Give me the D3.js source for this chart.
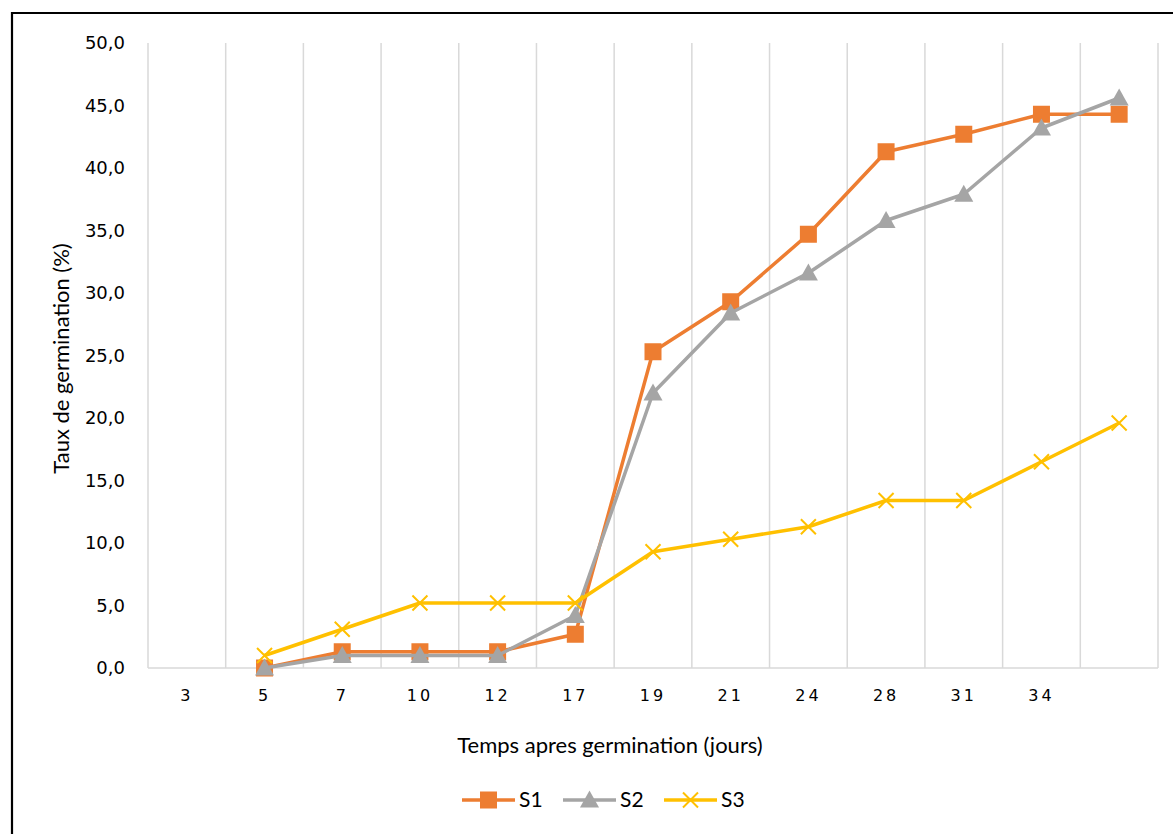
<!DOCTYPE html>
<html>
<head>
<meta charset="utf-8">
<script src="https://cdn.jsdelivr.net/npm/d3@7/dist/d3.min.js"></script>
<style>
  html, body { margin: 0; padding: 0; background: #fff; }
  svg { display: block; }
</style>
</head>
<body>
<svg id="chart" width="1173" height="834"></svg>
<script>
// Germination days (last category carries data but no label)
const categories = ["3", "5", "7", "10", "12", "17", "19", "21", "24", "28", "31", "34", ""];
// Germination rate (%) per series; null = no measurement
const s1 = [null, 0.0, 1.3, 1.3, 1.3, 2.7, 25.3, 29.3, 34.7, 41.3, 42.7, 44.3, 44.3];
const s2 = [null, 0.0, 1.0, 1.0, 1.0, 4.2, 22.0, 28.4, 31.6, 35.8, 37.9, 43.2, 45.6];
const s3 = [null, 1.0, 3.1, 5.2, 5.2, 5.2, 9.3, 10.3, 11.3, 13.4, 13.4, 16.5, 19.6];
const seriesNames = ["S1", "S2", "S3"];
const yTicks = [0, 5, 10, 15, 20, 25, 30, 35, 40, 45, 50];

const colors = { S1: "#ED7D31", S2: "#A5A5A5", S3: "#FFC000" };
const series = [
  { name: "S1", values: s1, marker: "square" },
  { name: "S2", values: s2, marker: "triangle" },
  { name: "S3", values: s3, marker: "cross" }
];

const svg = d3.select("#chart");
const W = 1173, H = 834;

// Outer frame (top and left edges visible)
svg.append("path")
  .attr("d", `M12,${H + 5}V13H${W + 5}`)
  .attr("fill", "none").attr("stroke", "#000").attr("stroke-width", 2.2);

const plot = { left: 148, right: 1158, top: 43, bottom: 668 };

const x = d3.scaleBand().domain(d3.range(categories.length))
  .range([plot.left, plot.right]).paddingInner(0).paddingOuter(0);
const y = d3.scaleLinear().domain([0, 50]).range([plot.bottom, plot.top]);
const cx = i => x(i) + x.bandwidth() / 2;

// Vertical gridlines at category boundaries
const bounds = d3.range(categories.length + 1).map(i => plot.left + i * x.bandwidth());
svg.append("g").selectAll("line").data(bounds).join("line")
  .attr("x1", d => d).attr("x2", d => d)
  .attr("y1", plot.top).attr("y2", plot.bottom)
  .attr("stroke", "#D9D9D9").attr("stroke-width", 1.5);

// Horizontal baseline
svg.append("line")
  .attr("x1", plot.left).attr("x2", plot.right)
  .attr("y1", y(0)).attr("y2", y(0))
  .attr("stroke", "#D9D9D9").attr("stroke-width", 1.5);

// Y axis labels
const yAxis = d3.axisLeft(y).tickValues(yTicks).tickSize(0).tickPadding(0)
  .tickFormat(d => d3.format(".1f")(d).replace(".", ","));
svg.append("g").attr("transform", `translate(125,0)`).call(yAxis)
  .call(g => g.select(".domain").remove())
  .selectAll("text")
  .attr("font-family", "DejaVu Sans, sans-serif")
  .attr("font-size", 18).attr("fill", "#000");

// X axis labels
const xAxis = d3.axisBottom(x).tickFormat(i => categories[i]).tickSize(0).tickPadding(0);
svg.append("g").attr("transform", `translate(0,${plot.bottom + 27})`).call(xAxis)
  .call(g => g.select(".domain").remove())
  .selectAll("text")
  .attr("font-family", "DejaVu Sans, sans-serif")
  .attr("font-size", 16).attr("letter-spacing", 3).attr("fill", "#000")
  .attr("dy", "0.35em");

// Axis titles
svg.append("text")
  .attr("x", 610).attr("y", 753)
  .attr("text-anchor", "middle")
  .attr("font-family", "Lato, Open Sans, sans-serif").attr("font-size", 22)
  .attr("fill", "#000")
  .text("Temps apres germination (jours)");

svg.append("text")
  .attr("transform", `translate(69,${(plot.top + plot.bottom) / 2 + 3}) rotate(-90)`)
  .attr("text-anchor", "middle")
  .attr("font-family", "Lato, Open Sans, sans-serif").attr("font-size", 22)
  .attr("fill", "#000")
  .text("Taux de germination (%)");

function drawMarker(g, type, color) {
  if (type === "square") {
    g.append("rect").attr("x", -8.5).attr("y", -8.5).attr("width", 17).attr("height", 17)
      .attr("fill", color);
  } else if (type === "triangle") {
    g.append("path").attr("d", "M0,-9.5L9.5,7.5H-9.5Z").attr("fill", color);
  } else {
    g.append("path").attr("d", "M-7.5,-7.5L7.5,7.5M-7.5,7.5L7.5,-7.5")
      .attr("stroke", color).attr("stroke-width", 2).attr("fill", "none");
  }
}

const line = d3.line()
  .defined(d => d.v !== null)
  .x(d => cx(d.i)).y(d => y(d.v));

series.forEach(s => {
  const pts = s.values.map((v, i) => ({ i, v }));
  const g = svg.append("g");
  g.append("path").datum(pts)
    .attr("d", line)
    .attr("fill", "none").attr("stroke", colors[s.name])
    .attr("stroke-width", 3.5).attr("stroke-linejoin", "round");
  pts.filter(d => d.v !== null).forEach(d => {
    const m = g.append("g").attr("transform", `translate(${cx(d.i)},${y(d.v)})`);
    drawMarker(m, s.marker, colors[s.name]);
  });
});

// Legend
const legendX = [462, 563, 664];
series.forEach((s, k) => {
  const g = svg.append("g").attr("transform", `translate(${legendX[k]},800)`);
  g.append("line").attr("x1", 0).attr("x2", 53).attr("y1", 0).attr("y2", 0)
    .attr("stroke", colors[s.name]).attr("stroke-width", 3.5);
  const m = g.append("g").attr("transform", "translate(26.5,0)");
  drawMarker(m, s.marker, colors[s.name]);
  g.append("text").attr("x", 57).attr("y", 0).attr("dy", "0.35em")
    .attr("font-family", "Lato, Open Sans, sans-serif").attr("font-size", 21)
    .attr("fill", "#000").text(s.name);
});
</script>
</body>
</html>
